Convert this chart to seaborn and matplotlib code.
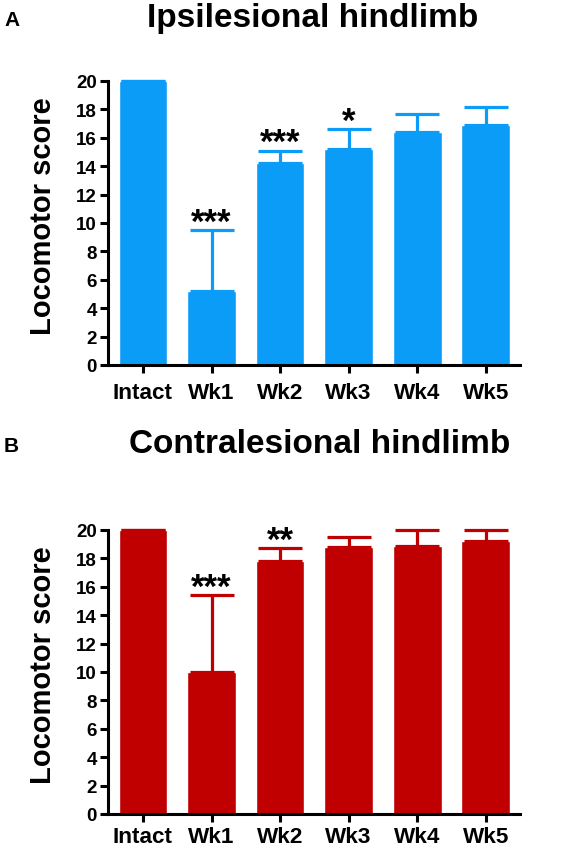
import matplotlib
matplotlib.use("Agg")
import matplotlib.pyplot as plt
import seaborn as sns
import pandas as pd

sns.set_style("white")
plt.rcParams['font.family'] = ['Liberation Sans', 'DejaVu Sans']
plt.rcParams['font.weight'] = 'bold'
for k in ['text.color', 'axes.labelcolor', 'xtick.color', 'ytick.color']:
    plt.rcParams[k] = 'black'

groups = ["Intact", "Wk1", "Wk2", "Wk3", "Wk4", "Wk5"]
ipsi_mean = [20.0, 5.2, 14.2, 15.2, 16.4, 16.9]
ipsi_upper = [20.0, 9.5, 15.1, 16.6, 17.7, 18.2]
ipsi_stars = ["", "***", "***", "*", "", ""]
contra_mean = [20.0, 10.0, 17.8, 18.8, 18.9, 19.2]
contra_upper = [20.0, 15.4, 18.7, 19.5, 20.0, 20.0]
contra_stars = ["", "***", "**", "", "", ""]
yticks = [0, 2, 4, 6, 8, 10, 12, 14, 16, 18, 20]

W, H = 571, 853
fig = plt.figure(figsize=(W / 100, H / 100), dpi=100)

def panel(rect, means, upper, stars, color, title, letter, title_xy, letter_xy, xpad):
    ax = fig.add_axes(rect)
    df = pd.DataFrame({"group": groups, "score": means})
    sns.barplot(data=df, x="group", y="score", color=color, saturation=1,
                width=0.71, errorbar=None, ax=ax)
    err = [u - m for u, m in zip(upper, means)]
    zeros = [0] * len(err)
    xs = list(range(len(groups)))
    eb = ax.errorbar(xs, means, yerr=[zeros, err], fmt="none", ecolor=color,
                     elinewidth=2.3, capsize=16, capthick=2.3)
    for art in eb.get_children():
        art.set_clip_on(False)
    for x, u, s in zip(xs, upper, stars):
        if s:
            ax.text(x, u - 0.1, s, ha="center", va="baseline", fontsize=25,
                    fontweight="bold", color="black", clip_on=False)
    ax.set_xlim(-0.51, 5.5)
    ax.set_ylim(0, 20)
    ax.set_yticks(yticks)
    ax.set_yticklabels([str(t) for t in yticks], fontsize=13.5, fontweight="bold")
    ax.set_xticks(xs)
    ax.set_xticklabels(groups, fontsize=16.2, fontweight="bold")
    ax.set_xlabel("")
    ax.set_ylabel("Locomotor score", fontsize=21, fontweight="bold")
    ax.yaxis.label.set_va("center")
    ax.yaxis.set_label_coords((43 - 108) / 412, 0.528)
    for sp in ["top", "right"]:
        ax.spines[sp].set_visible(False)
    for sp in ["left", "bottom"]:
        ax.spines[sp].set_linewidth(2.2)
        ax.spines[sp].set_color("black")
    ax.tick_params(axis="both", direction="out", length=6, width=2.2, color="black",
                   left=True, bottom=True)
    ax.tick_params(axis="y", pad=2)
    ax.tick_params(axis="x", pad=xpad)
    fig.text(title_xy[0] / W, 1 - title_xy[1] / H, title, ha="center", va="center",
             fontsize=24, fontweight="bold")
    fig.text(letter_xy[0] / W, 1 - letter_xy[1] / H, letter, ha="left", va="center",
             fontsize=15, fontweight="bold")
    return ax

panel([108 / W, 1 - 366 / H, 412 / W, 284 / H], ipsi_mean, ipsi_upper, ipsi_stars,
      "#0A9CF7", "Ipsilesional hindlimb", "A", (313, 19), (4, 21), 6)
panel([108 / W, 1 - 815 / H, 412 / W, 284 / H], contra_mean, contra_upper, contra_stars,
      "#C00000", "Contralesional hindlimb", "B", (320, 445), (4, 447), 2.5)

fig.savefig("out.png", dpi=100)
